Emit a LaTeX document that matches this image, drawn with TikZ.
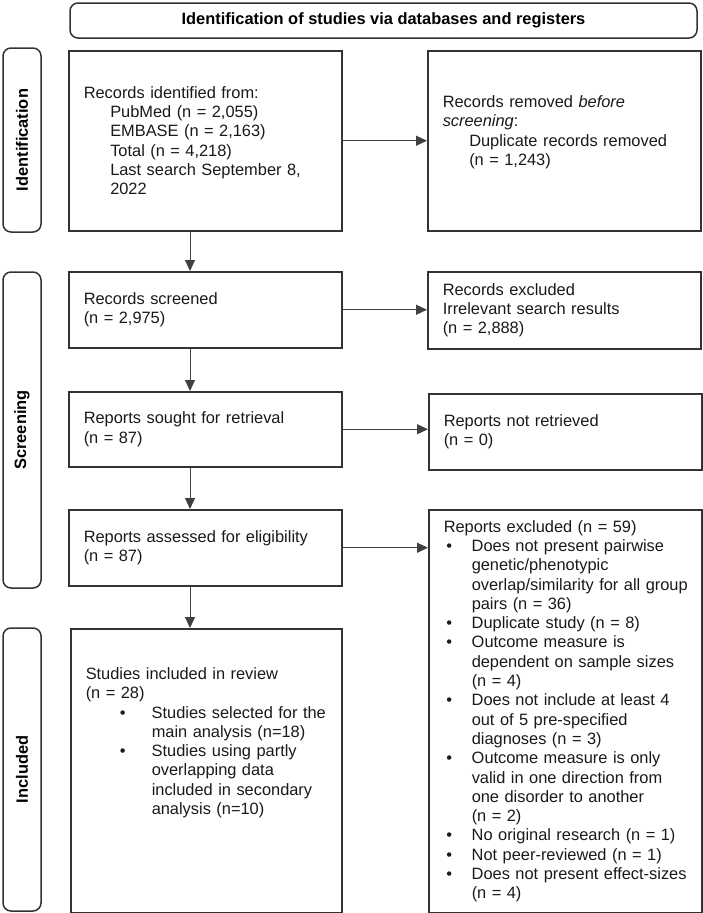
\documentclass[tikz,border=0pt]{standalone}
\usepackage{fontspec}
\setmainfont{Liberation Sans}
\usetikzlibrary{arrows.meta,positioning}

\newcommand{\ind}{\hspace*{26.5pt}}
\newcommand{\bul}{\hspace*{2.7pt}\makebox[25.3pt][l]{\textbullet}}
\newcommand{\bind}{\hspace*{28pt}}
\newcommand{\sbul}{\hspace*{34pt}\makebox[32pt][l]{\textbullet}}
\newcommand{\sind}{\hspace*{66pt}}

\begin{document}
\begin{tikzpicture}[x=1pt,y=-1pt,>={Triangle[length=11pt,width=10pt]},
    font=\fontsize{16.4}{19.3}\selectfont,
    box/.style={draw=black!80,line width=1.5pt,anchor=north west,inner xsep=15pt,inner ysep=3pt,
      text width=243pt,align=left,text=black!90},
    phase/.style={draw=black!80,line width=1.5pt,rounded corners=8pt,rotate=90,minimum height=38pt,
      inner sep=0pt,font=\fontsize{16.4}{19}\selectfont\bfseries},
    flow/.style={->,draw=black!75,line width=1pt}]
  \useasboundingbox (0,0) rectangle (702,913);

  % header
  \node[draw=black!80,line width=1.5pt,rounded corners=8pt,minimum width=627pt,minimum height=35pt,
    font=\fontsize{16.4}{19}\selectfont\bfseries] (hd) at (383.5,20.5)
    {Identification of studies via databases and registers};

  % phases
  \node[phase,minimum width=184pt] (lid)  at (22,140)   {Identification};
  \node[phase,minimum width=316pt] (lscr) at (22,430)   {Screening};
  \node[phase,minimum width=283pt] (linc) at (22,769.5) {Included};

  % left column
  \node[box,minimum height=180pt] (id) at (68,50)
    {Records identified from:\\
     \ind PubMed (n = 2,055)\\
     \ind EMBASE (n = 2,163)\\
     \ind Total (n = 4,218)\\
     \ind Last search September 8,\\
     \ind 2022};
  \node[box,minimum height=76pt] (scr) at (68,271) {Records screened\\(n = 2,975)};
  \node[box,minimum height=75pt] (srt) at (68,391) {Reports sought for retrieval\\(n = 87)};
  \node[box,minimum height=76pt] (ass) at (68,509) {Reports assessed for eligibility\\(n = 87)};
  \node[box,text width=241pt,minimum height=284pt] (inc) at (70,628)
    {Studies included in review\\
     (n = 28)\\
     \sbul Studies selected for the\\
     \sind main analysis (n=18)\\
     \sbul Studies using partly\\
     \sind overlapping data\\
     \sind included in secondary\\
     \sind analysis (n=10)\par\vspace*{56pt}};

  % right column
  \node[box,minimum height=180pt] (rm) at (427,50)
    {Records removed \textit{before}\\
     \textit{screening}:\\
     \ind Duplicate records removed\\
     \ind (n = 1,243)\par\vspace*{17pt}};
  \node[box,minimum height=77pt] (exc) at (427,271)
    {Records excluded\\Irrelevant search results\\(n = 2,888)};
  \node[box,minimum height=76pt] (nrt) at (428,393) {Reports not retrieved\\(n = 0)};
  \node[box,minimum height=403pt] (rex) at (428,509)
    {Reports excluded (n = 59)\\
     \bul Does not present pairwise\\
     \bind genetic/phenotypic\\
     \bind \mbox{overlap/similarity for all group}\\
     \bind pairs (n = 36)\\
     \bul Duplicate study (n = 8)\\
     \bul Outcome measure is\\
     \bind dependent on sample sizes\\
     \bind (n = 4)\\
     \bul Does not include at least 4\\
     \bind out of 5 pre-specified\\
     \bind diagnoses (n = 3)\\
     \bul Outcome measure is only\\
     \bind valid in one direction from\\
     \bind one disorder to another\\
     \bind (n = 2)\\
     \bul No original research (n = 1)\\
     \bul Not peer-reviewed (n = 1)\\
     \bul \mbox{Does not present effect-sizes}\\
     \bind (n = 4)};

  % connectors
  \coordinate (sp) at (190,0);
  \draw[flow] (id.south -| sp)  -- (scr.north -| sp);
  \draw[flow] (scr.south -| sp) -- (srt.north -| sp);
  \draw[flow] (srt.south -| sp) -- (ass.north -| sp);
  \draw[flow] (ass.south -| sp) -- (inc.north -| sp);
  \draw[flow] (id.east)  -- (id.east -| rm.west);
  \draw[flow] (scr.east) -- (scr.east -| exc.west);
  \draw[flow] (srt.east) -- (srt.east -| nrt.west);
  \draw[flow] (ass.east) -- (ass.east -| rex.west);
\end{tikzpicture}
\end{document}
